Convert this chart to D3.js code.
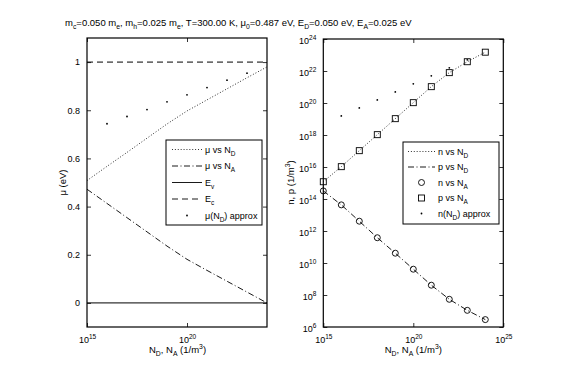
<!DOCTYPE html>
<html>
<head>
<meta charset="utf-8">
<script src="https://cdn.jsdelivr.net/npm/d3@7"></script>
<style>
  body { margin: 0; background: #fff; }
  text { font-family: "Liberation Sans", Arial, sans-serif; fill: #000; }
</style>
</head>
<body>
<div id="chart"></div>
<script>
// ---- data ----
// left panel: chemical potential (eV) against doping (1/m^3)
const dopingLeft = [1e15, 1e16, 1e17, 1e18, 1e19, 1e20, 1e21, 1e22, 1e23, 1e24];
const muVsND = [0.508, 0.567, 0.625, 0.684, 0.743, 0.797, 0.843, 0.889, 0.935, 0.98];
const muVsNA = [0.472, 0.413, 0.354, 0.295, 0.236, 0.181, 0.135, 0.09, 0.045, 0.0];
const approxDoping = [1e16, 1e17, 1e18, 1e19, 1e20, 1e21, 1e22, 1e23];
const muApprox = [0.744, 0.774, 0.803, 0.835, 0.864, 0.894, 0.925, 0.954];
const bandEv = 0;
const bandEc = 1;

// right panel: carrier densities (1/m^3)
const dopingRight = [1e15, 1e16, 1e17, 1e18, 1e19, 1e20, 1e21, 1e22, 1e23, 1e24];
const nVsND = [1.2e15, 1.05e16, 1.05e17, 1.05e18, 1.05e19, 1.05e20, 1.05e21, 7.9e21, 3.8e22, 1.5e23];
const pVsND = [3.2e14, 4.3e13, 4.1e12, 3.8e11, 4.1e10, 4.1e9, 4.1e8, 5.4e7, 1.1e7, 2.9e6];
const nVsNA = [3.2e14, 4.3e13, 4.1e12, 3.8e11, 4.1e10, 4.1e9, 4.1e8, 5.4e7, 1.1e7, 2.9e6];
const pVsNA = [1.2e15, 1.05e16, 1.05e17, 1.05e18, 1.05e19, 1.05e20, 1.05e21, 7.9e21, 3.8e22, 1.5e23];
const nApprox = [1.55e19, 4.9e19, 1.55e20, 4.9e20, 1.58e21, 5e21, 1.58e22, 5e22];

// tick values
const leftYTicks = [0, 0.2, 0.4, 0.6, 0.8, 1];
const leftXTicks = [1e15, 1e20];
const rightYTicks = [1e6, 1e8, 1e10, 1e12, 1e14, 1e16, 1e18, 1e20, 1e22, 1e24];
const rightXTicks = [1e15, 1e20, 1e25];

const W = 564, H = 376;
const svg = d3.select("#chart").append("svg").attr("width", W).attr("height", H);

// write text with _sub / ^sup parts: parts = [[str, kind], ...]
function rich(sel, parts, size) {
  parts.forEach(([s, kind], i) => {
    const prev = i > 0 ? parts[i - 1][1] : null;
    let dy = 0;
    if (prev === "sub") dy -= 3;
    if (prev === "sup") dy += 4;
    if (kind === "sub") dy += 3;
    if (kind === "sup") dy -= 4;
    sel.append("tspan")
      .attr("dy", dy)
      .style("font-size", kind ? (size * 0.72) + "px" : size + "px")
      .text(s);
  });
}

const DOT = "0.9,2";
const DASH = "6,4";
const DASHDOT = "6,2.5,1,2.5";

// ---- title ----
const title = svg.append("text").attr("x", 65).attr("y", 26);
rich(title, [["m", null], ["c", "sub"], ["=0.050 m", null], ["e", "sub"], [", m", null], ["h", "sub"],
  ["=0.025 m", null], ["e", "sub"], [", T=300.00 K, \u03bc", null], ["0", "sub"], ["=0.487 eV, E", null],
  ["D", "sub"], ["=0.050 eV, E", null], ["A", "sub"], ["=0.025 eV", null]], 9.5);

// ---- shared axis helpers ----
function powLabel(sel) {
  sel.each(function (d) {
    const t = d3.select(this);
    t.text(null);
    t.append("tspan").text("10");
    t.append("tspan").attr("dy", -4).style("font-size", "6.5px").text(Math.round(Math.log10(d)));
  });
}

function drawFrame(g, x, y, opts) {
  const [x0, x1] = x.range();
  const [y0, y1] = y.range();
  // bottom & top
  const bottom = g.append("g").attr("transform", "translate(0," + y0 + ")")
    .call(d3.axisBottom(x).tickValues(opts.xTicks).tickSizeInner(-4).tickSizeOuter(0).tickPadding(8));
  g.append("g").attr("transform", "translate(0," + y1 + ")")
    .call(d3.axisTop(x).tickValues(opts.xTicks).tickSizeInner(-4).tickSizeOuter(0).tickFormat(""));
  // left & right
  const left = g.append("g").attr("transform", "translate(" + x0 + ",0)")
    .call(d3.axisLeft(y).tickValues(opts.yTicks).tickSizeInner(-4).tickSizeOuter(0).tickPadding(7)
      .tickFormat(opts.logY ? null : d3.format("~g")));
  g.append("g").attr("transform", "translate(" + x1 + ",0)")
    .call(d3.axisRight(y).tickValues(opts.yTicks).tickSizeInner(-4).tickSizeOuter(0).tickFormat(""));

  g.selectAll(".domain").remove();
  g.selectAll(".tick line").attr("stroke", "#000").attr("stroke-width", 0.8);
  g.selectAll(".tick text").style("font-size", "9px").attr("fill", "#000");
  bottom.selectAll(".tick text").call(powLabel).attr("dy", "0.9em");
  if (opts.logY) left.selectAll(".tick text").call(powLabel).attr("dy", "0.45em");

  g.append("rect")
    .attr("x", x0).attr("y", y1)
    .attr("width", x1 - x0).attr("height", y0 - y1)
    .attr("fill", "none").attr("stroke", "#000").attr("stroke-width", 1.2);
}

function legend(g, box, rows) {
  g.append("rect").attr("x", box.x).attr("y", box.y).attr("width", box.w).attr("height", box.h)
    .attr("fill", "#fff").attr("stroke", "#000").attr("stroke-width", 1);
  rows.forEach((r, i) => {
    const cy = box.y + box.pad + i * box.step;
    if (r.dash !== undefined) {
      g.append("line").attr("x1", box.sx0).attr("x2", box.sx1).attr("y1", cy).attr("y2", cy)
        .attr("stroke", "#000").attr("stroke-width", 0.9)
        .attr("stroke-dasharray", r.dash);
    } else if (r.marker === "circle") {
      g.append("circle").attr("cx", (box.sx0 + box.sx1) / 2).attr("cy", cy).attr("r", 3)
        .attr("fill", "none").attr("stroke", "#000").attr("stroke-width", 0.9);
    } else if (r.marker === "square") {
      g.append("rect").attr("x", (box.sx0 + box.sx1) / 2 - 3).attr("y", cy - 3).attr("width", 6).attr("height", 6)
        .attr("fill", "none").attr("stroke", "#000").attr("stroke-width", 0.9);
    } else {
      g.append("circle").attr("cx", (box.sx0 + box.sx1) / 2).attr("cy", cy).attr("r", 0.9).attr("fill", "#000");
    }
    const t = g.append("text").attr("x", box.tx).attr("y", cy + 3);
    rich(t, r.label, 9);
  });
}

// ---- left panel ----
const xL = d3.scaleLog().domain([1e15, 1e24]).range([87, 267]);
const yL = d3.scaleLinear().domain([-0.1, 1.1]).range([327, 38]);
const gL = svg.append("g");

const lineL = d3.line().x(d => xL(d[0])).y(d => yL(d[1]));

gL.append("path").datum(dopingLeft.map((d, i) => [d, muVsND[i]]))
  .attr("d", lineL).attr("fill", "none").attr("stroke", "#000").attr("stroke-width", 0.9)
  .attr("stroke-dasharray", DOT);
gL.append("path").datum(dopingLeft.map((d, i) => [d, muVsNA[i]]))
  .attr("d", lineL).attr("fill", "none").attr("stroke", "#000").attr("stroke-width", 0.9)
  .attr("stroke-dasharray", DASHDOT);
gL.append("path").datum(xL.domain().map(d => [d, bandEv]))
  .attr("d", lineL).attr("fill", "none").attr("stroke", "#000").attr("stroke-width", 1);
gL.append("path").datum(xL.domain().map(d => [d, bandEc]))
  .attr("d", lineL).attr("fill", "none").attr("stroke", "#000").attr("stroke-width", 1)
  .attr("stroke-dasharray", DASH);
gL.selectAll(".approx").data(approxDoping.map((d, i) => [d, muApprox[i]]))
  .enter().append("circle").attr("class", "approx")
  .attr("cx", d => xL(d[0])).attr("cy", d => yL(d[1])).attr("r", 0.9).attr("fill", "#000");

drawFrame(gL, xL, yL, { xTicks: leftXTicks, yTicks: leftYTicks, logY: false });

legend(gL, { x: 166, y: 140, w: 96, h: 85, pad: 9.5, step: 16.5, sx0: 172, sx1: 202, tx: 205 }, [
  { dash: DOT, label: [["\u03bc vs N", null], ["D", "sub"]] },
  { dash: DASHDOT, label: [["\u03bc vs N", null], ["A", "sub"]] },
  { dash: "none", label: [["E", null], ["v", "sub"]] },
  { dash: DASH, label: [["E", null], ["c", "sub"]] },
  { marker: "dot", label: [["\u03bc(N", null], ["D", "sub"], [") approx", null]] }
]);

svg.append("text").attr("transform", "translate(66,182.5) rotate(-90)")
  .attr("text-anchor", "middle").style("font-size", "9.5px").text("\u03bc (eV)");
const xlabL = svg.append("text").attr("x", 177.5).attr("y", 353).attr("text-anchor", "middle");
rich(xlabL, [["N", null], ["D", "sub"], [", N", null], ["A", "sub"], [" (1/m", null], ["3", "sup"], [")", null]], 9.5);

// ---- right panel ----
const xR = d3.scaleLog().domain([1e15, 1e25]).range([323.3, 503.3]);
const yR = d3.scaleLog().domain([1e6, 1e24]).range([327, 39]);
const gR = svg.append("g");

const lineR = d3.line().x(d => xR(d[0])).y(d => yR(d[1]));

gR.append("path").datum(dopingRight.map((d, i) => [d, nVsND[i]]))
  .attr("d", lineR).attr("fill", "none").attr("stroke", "#000").attr("stroke-width", 0.9)
  .attr("stroke-dasharray", DOT);
gR.append("path").datum(dopingRight.map((d, i) => [d, pVsND[i]]))
  .attr("d", lineR).attr("fill", "none").attr("stroke", "#000").attr("stroke-width", 0.9)
  .attr("stroke-dasharray", DASHDOT);
gR.selectAll(".circ").data(dopingRight.map((d, i) => [d, nVsNA[i]]))
  .enter().append("circle").attr("class", "circ")
  .attr("cx", d => xR(d[0])).attr("cy", d => yR(d[1])).attr("r", 3)
  .attr("fill", "none").attr("stroke", "#000").attr("stroke-width", 0.9);
gR.selectAll(".sq").data(dopingRight.map((d, i) => [d, pVsNA[i]]))
  .enter().append("rect").attr("class", "sq")
  .attr("x", d => xR(d[0]) - 3).attr("y", d => yR(d[1]) - 3).attr("width", 6).attr("height", 6)
  .attr("fill", "none").attr("stroke", "#000").attr("stroke-width", 0.9);
gR.selectAll(".approx").data(approxDoping.map((d, i) => [d, nApprox[i]]))
  .enter().append("circle").attr("class", "approx")
  .attr("cx", d => xR(d[0])).attr("cy", d => yR(d[1])).attr("r", 0.9).attr("fill", "#000");

drawFrame(gR, xR, yR, { xTicks: rightXTicks, yTicks: rightYTicks, logY: true });

legend(gR, { x: 403, y: 142, w: 96, h: 82, pad: 9.5, step: 15.5, sx0: 408, sx1: 435, tx: 438 }, [
  { dash: DOT, label: [["n vs N", null], ["D", "sub"]] },
  { dash: DASHDOT, label: [["p vs N", null], ["D", "sub"]] },
  { marker: "circle", label: [["n vs N", null], ["A", "sub"]] },
  { marker: "square", label: [["p vs N", null], ["A", "sub"]] },
  { marker: "dot", label: [["n(N", null], ["D", "sub"], [") approx", null]] }
]);

const ylabR = svg.append("text").attr("transform", "translate(294,182.5) rotate(-90)")
  .attr("text-anchor", "middle");
rich(ylabR, [["n, p (1/m", null], ["3", "sup"], [")", null]], 9.5);
const xlabR = svg.append("text").attr("x", 413.3).attr("y", 353).attr("text-anchor", "middle");
rich(xlabR, [["N", null], ["D", "sub"], [", N", null], ["A", "sub"], [" (1/m", null], ["3", "sup"], [")", null]], 9.5);
</script>
</body>
</html>
